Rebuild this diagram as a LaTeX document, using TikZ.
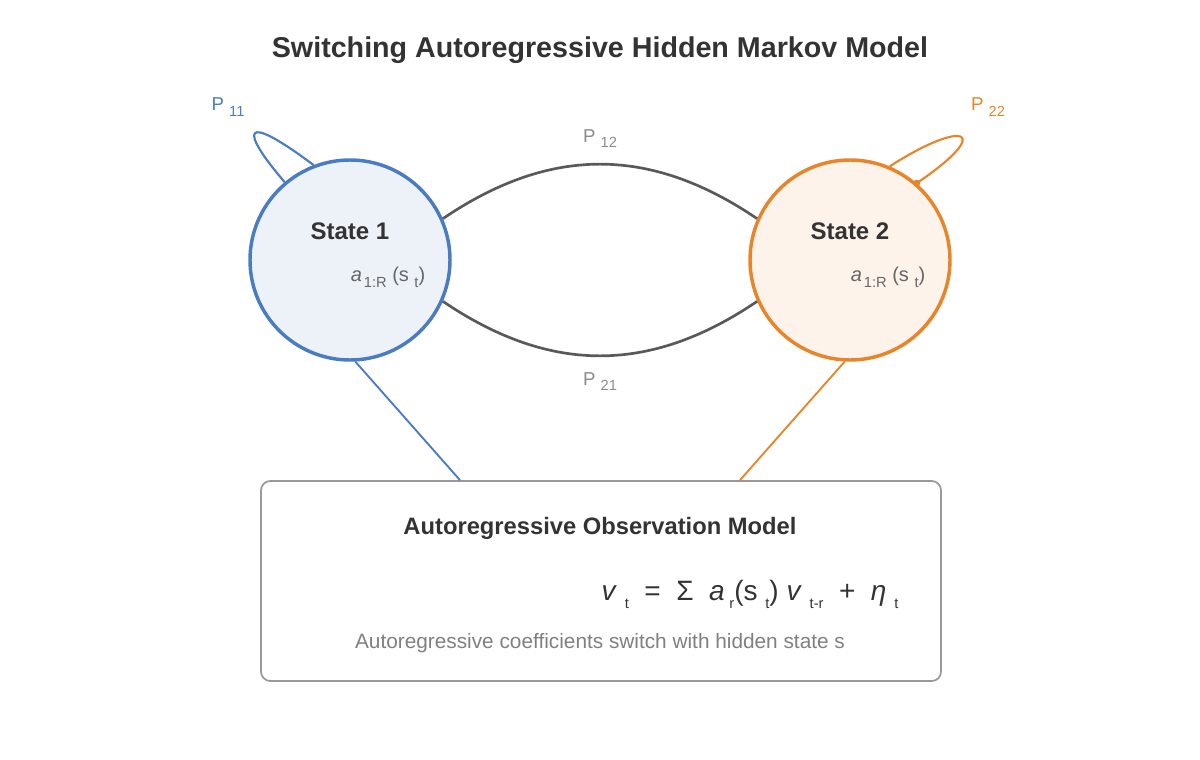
\documentclass[tikz,border=0pt]{standalone}
\usepackage{fontspec}
\setmainfont{Liberation Sans}
\usetikzlibrary{positioning}
\definecolor{blueS}{HTML}{4A7CC4}
\definecolor{orangeS}{HTML}{E8852A}
\definecolor{darkT}{HTML}{333333}
\newcommand{\sub}[1]{\raisebox{-0.55ex}{\fontsize{11}{11}\selectfont #1}}
\tikzset{
  state/.style={circle, minimum size=150pt, line width=2.6pt},
  trans/.style={draw=black!65, line width=2pt},
  plabel/.style={font=\fontsize{14}{14}\selectfont},
  coef/.style={text=black!60, font=\fontsize{15}{15}\selectfont},
}
\begin{document}
\begin{tikzpicture}[x=0.75pt,y=-0.75pt]
    \useasboundingbox (0,0) rectangle (1200,760);
    % title
    \node[text=darkT, font=\bfseries\fontsize{21.5}{21.5}\selectfont] (title) at (600,50) {Switching Autoregressive Hidden Markov Model};

    % hidden states
    \node[state, draw=blueS, fill=blueS!10] (s1) at (350,260) {};
    \node[state, draw=orangeS, fill=orangeS!10] (s2) at (850,260) {};
    \node[text=darkT, font=\bfseries\fontsize{18}{18}\selectfont] (s1name) at (350,231) {State 1};
    \node[text=darkT, font=\bfseries\fontsize{18}{18}\selectfont] (s2name) at (850,231) {State 2};
    \node[coef] (s1coef) at (388,277) {\textit{a}\hspace{0.1em}\sub{1:R} (s \sub{t})};
    \node[coef] (s2coef) at (888,277) {\textit{a}\hspace{0.1em}\sub{1:R} (s \sub{t})};

    % transitions between states
    \draw[trans] (s1.24) .. controls (550,146) and (650,146) .. (s2.156)
        node[pos=0.5, above=8pt, plabel, text=black!45] (p12) {P \sub{12}};
    \draw[trans] (s1.-24) .. controls (550,374) and (650,374) .. (s2.-156)
        node[pos=0.5, below=8pt, plabel, text=black!45] (p21) {P \sub{21}};

    % self loops
    \draw[blueS, line width=1.6pt] (s1.130) .. controls (240,130) and (240,110) .. (s1.111);
    \node[plabel, text=blueS] (p11) at (228,107) {P \sub{11}};
    \draw[orangeS, line width=1.6pt] (s2.67) .. controls (965,118) and (995,130) .. (s2.49);
    \fill[orangeS] (s2.49) circle (3.5);
    \node[plabel, text=orangeS] (p22) at (988,107) {P \sub{22}};

    % observation model
    \node[draw=black!40, line width=1.3pt, rounded corners=7pt, minimum width=510pt, minimum height=150pt] (obs) at (601,581) {};
    \draw[blueS, line width=1.4pt] (s1.-87) -- (obs.north -| 460,0);
    \draw[orangeS, line width=1.4pt] (s2.-93) -- (obs.north -| 740,0);
    \node[text=darkT, font=\bfseries\fontsize{17.8}{17.8}\selectfont] (obstitle) at (600,528) {Autoregressive Observation Model};
    \node[text=darkT, font=\fontsize{21}{21}\selectfont] (eqn) at (750,594)
        {\textit{v} \sub{t} \;=\; Σ \;\textit{a}\,\sub{r}(s \sub{t}) \textit{v} \sub{t-r} \;+\; \textit{η} \sub{t}};
    \node[text=black!50, font=\fontsize{15.6}{15.6}\selectfont] (caption) at (600,643) {Autoregressive coefficients switch with hidden state s};
\end{tikzpicture}
\end{document}
